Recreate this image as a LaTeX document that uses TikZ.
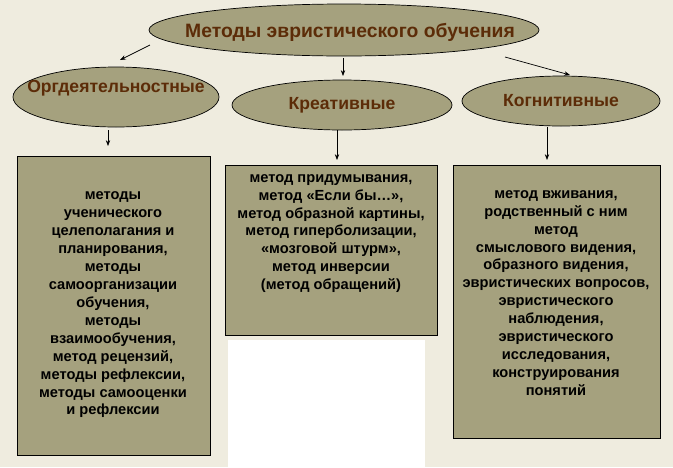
\documentclass[tikz,border=0pt]{standalone}
\usepackage{fontspec}
\setmainfont{Liberation Sans}
\usetikzlibrary{arrows.meta,shapes.geometric}
\definecolor{paper}{HTML}{EFECDF}
\definecolor{olive}{HTML}{A5A17E}
\definecolor{brownink}{HTML}{5C2C08}
\begin{document}
\begin{tikzpicture}[
    x = 0.03cm, y = -0.03cm,
    > = {Stealth[length=5pt]},
    semithick
    ]
    \tikzset{
    oval/.style = {ellipse, draw = black, fill = olive, inner sep = 0pt,
        font = \bfseries\fontsize{15}{17}\selectfont, text = brownink},
    ovaltext/.style = {text = brownink, font = \bfseries\fontsize{15}{17}\selectfont},
    listtext/.style = {font = \bfseries\fontsize{12.5}{15.3}\selectfont, align = center},
    }
    \fill[paper] (0,0) rectangle (673,467);
    \useasboundingbox (0,0) rectangle (673,467);

    \draw[fill = olive] (344,30) ellipse [x radius = 195, y radius = 26];
    \node[ovaltext, font = \bfseries\fontsize{16.5}{19}\selectfont] (top) at (350,32) {Методы эвристического обучения};
    \draw[fill = olive] (116,97) ellipse [x radius = 103, y radius = 30];
    \node[ovaltext] (org) at (116,88) {Оргдеятельностные};
    \node[oval, minimum width = 220*0.03cm, minimum height = 50*0.03cm] (kre) at (342,105) {Креативные};
    \node[oval, minimum width = 198*0.03cm, minimum height = 50*0.03cm] (kog) at (561,101) {Когнитивные};

    \draw[fill = olive] (17,156) rectangle (210,455);
    \node[listtext] (orgbox) at (113,305)
      {методы\\ученического\\целеполагания и\\планирования,\\методы\\самоорганизации\\обучения,\\методы\\взаимообучения,\\метод рецензий,\\методы рефлексии,\\методы самооценки\\и рефлексии};

    \draw[fill = olive] (225,165) rectangle (437,335);
    \node[listtext, anchor = north] (krebox) at (331,170)
      {метод придумывания,\\метод «Если бы…»,\\метод образной картины,\\метод гиперболизации,\\«мозговой штурм»,\\метод инверсии\\(метод обращений)};
    \fill[white] (228,340) rectangle (425,467);

    \draw[fill = olive] (453,165) rectangle (660,438);
    \node[listtext] (kogbox) at (556,293)
      {метод вживания,\\родственный с ним\\метод\\смыслового видения,\\образного видения,\\эвристических вопросов,\\эвристического\\наблюдения,\\эвристического\\исследования,\\конструирования\\понятий};

    \coordinate (a1) at (150,45);  \coordinate (a2) at (120,60);
    \coordinate (b1) at (343,58);  \coordinate (b2) at (343,76);
    \coordinate (c1) at (505,57);  \coordinate (c2) at (570,75);
    \coordinate (d1) at (108,130); \coordinate (d2) at (108,146);
    \coordinate (e1) at (337,130); \coordinate (e2) at (337,160);
    \coordinate (f1) at (547,127); \coordinate (f2) at (547,160);
    \draw[->] (a1) -- (a2);
    \draw[->] (b1) -- (b2);
    \draw[->] (c1) -- (c2);
    \draw[->] (d1) -- (d2);
    \draw[->] (e1) -- (e2);
    \draw[->] (f1) -- (f2);
\end{tikzpicture}
\end{document}
